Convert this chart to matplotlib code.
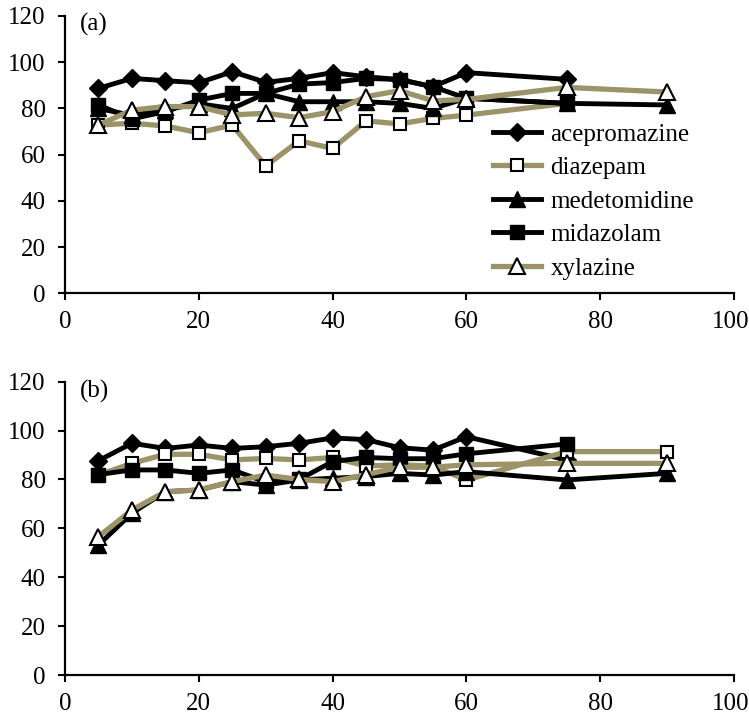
import matplotlib
matplotlib.use("Agg")
import matplotlib.pyplot as plt
from matplotlib.transforms import ScaledTranslation

plt.rcParams['font.family'] = ['Liberation Serif', 'DejaVu Serif']

# time points
t_a = {
    'acepromazine': [5, 10, 15, 20, 25, 30, 35, 40, 45, 50, 55, 60, 75],
    'diazepam':     [5, 10, 15, 20, 25, 30, 35, 40, 45, 50, 55, 60, 75],
    'medetomidine': [5, 10, 15, 20, 25, 30, 35, 40, 45, 50, 55, 60, 75, 90],
    'midazolam':    [5, 10, 15, 20, 25, 30, 35, 40, 45, 50, 55, 60, 75],
    'xylazine':     [5, 10, 15, 20, 25, 30, 35, 40, 45, 50, 55, 60, 75, 90],
}
acepromazine_a = [88.7, 93.0, 92.0, 91.1, 95.9, 91.3, 93.0, 95.5, 93.7, 92.5, 89.4, 95.5, 92.6]
diazepam_a     = [72.8, 73.6, 72.4, 69.5, 72.8, 55.1, 66.0, 62.7, 74.6, 73.3, 75.7, 77.1, 82.2]
medetomidine_a = [80.0, 77.0, 79.5, 82.0, 80.0, 86.5, 82.9, 82.9, 82.9, 82.2, 80.0, 84.4, 82.2, 81.5]
midazolam_a    = [81.5, 75.5, 78.6, 83.6, 86.5, 86.5, 90.5, 91.2, 93.0, 92.5, 89.4, 84.4, 82.2]
xylazine_a     = [72.8, 79.3, 80.8, 80.8, 77.2, 77.9, 76.0, 78.6, 85.1, 87.7, 83.3, 83.9, 89.1, 87.1]

t_b = {
    'acepromazine': [5, 10, 15, 20, 25, 30, 35, 40, 45, 50, 55, 60, 75],
    'diazepam':     [5, 10, 15, 20, 25, 30, 35, 40, 45, 50, 55, 60, 75, 90],
    'medetomidine': [5, 10, 15, 20, 25, 30, 35, 40, 45, 50, 55, 60, 75, 90],
    'midazolam':    [5, 10, 15, 20, 25, 30, 35, 40, 45, 50, 55, 60, 75],
    'xylazine':     [5, 10, 15, 20, 25, 30, 35, 40, 45, 50, 55, 60, 75, 90],
}
acepromazine_b = [87.7, 94.8, 92.7, 94.1, 92.7, 93.4, 94.8, 97.0, 96.3, 93.0, 92.0, 97.5, 88.0]
diazepam_b     = [81.8, 86.6, 90.3, 90.3, 88.0, 88.6, 88.0, 89.0, 85.5, 86.0, 85.5, 79.8, 91.4, 91.4]
medetomidine_b = [53.2, 66.2, 75.0, 75.7, 79.1, 77.7, 79.8, 80.5, 81.2, 82.5, 81.8, 83.2, 79.8, 82.5]
midazolam_b    = [82.0, 83.9, 83.9, 82.5, 83.9, 79.0, 80.0, 87.3, 89.0, 88.5, 88.5, 90.5, 94.5]
xylazine_b     = [56.6, 67.5, 75.0, 75.7, 79.1, 81.8, 80.0, 79.1, 82.0, 85.0, 85.0, 86.0, 86.6, 86.6]

names = ['acepromazine', 'diazepam', 'medetomidine', 'midazolam', 'xylazine']
panel_labels = ['(a)', '(b)']
x_ticks = [0, 20, 40, 60, 80, 100]
y_ticks = [0, 20, 40, 60, 80, 100, 120]

OLIVE = '#9c9468'
styles = {
    'acepromazine': dict(color='black', lw=3.5, marker='D', ms=9, mfc='black', mec='black'),
    'diazepam':     dict(color=OLIVE, lw=3.8, marker='s', ms=9, mfc='white', mec='black', mew=1.5),
    'medetomidine': dict(color='black', lw=3.5, marker='^', ms=11, mfc='black', mec='black'),
    'midazolam':    dict(color='black', lw=3.5, marker='s', ms=9.5, mfc='black', mec='black'),
    'xylazine':     dict(color=OLIVE, lw=3.8, marker='^', ms=11, mfc='white', mec='black', mew=1.5),
}
FS = 18

fig = plt.figure(figsize=(7.49, 7.15), dpi=100)
W, H = 749, 715
ax_a = fig.add_axes([65 / W, 1 - 293.3 / H, 669 / W, 277.3 / H])
ax_b = fig.add_axes([65 / W, 1 - 675 / H, 669 / W, 293.3 / H])

data_a = dict(zip(names, [acepromazine_a, diazepam_a, medetomidine_a, midazolam_a, xylazine_a]))
data_b = dict(zip(names, [acepromazine_b, diazepam_b, medetomidine_b, midazolam_b, xylazine_b]))

for ax, data, tt, lab in [(ax_a, data_a, t_a, panel_labels[0]), (ax_b, data_b, t_b, panel_labels[1])]:
    for n in names:
        ax.plot(tt[n], data[n], label=n, solid_joinstyle='round', **styles[n])
    ax.set_xlim(0, 100)
    ax.set_ylim(0, 120)
    ax.set_xticks(x_ticks)
    ax.set_yticks(y_ticks)
    for s in ['top', 'right']:
        ax.spines[s].set_visible(False)
    for s in ['left', 'bottom']:
        ax.spines[s].set_linewidth(1.6)
    ax.tick_params(axis='both', direction='out', length=5, width=1.5, labelsize=FS)
    ax.tick_params(axis='y', pad=9)
    ax.tick_params(axis='x', pad=8)
    ax.text(0.022, 0.968, lab, transform=ax.transAxes, fontsize=FS, va='center', ha='left')
    fig.canvas.draw()
    last = ax.get_xticklabels()[-1]
    last.set_transform(last.get_transform() + ScaledTranslation(-3 / 100, 0, fig.dpi_scale_trans))

leg = ax_a.legend(loc='upper left', bbox_to_anchor=((493 - 65) / 669, 1 - (123 - 16) / 277.3),
                  frameon=False, fontsize=FS, borderaxespad=0, borderpad=0,
                  handlelength=1.9, handletextpad=0.4, labelspacing=0.44)

fig.savefig('out.png', dpi=100)
